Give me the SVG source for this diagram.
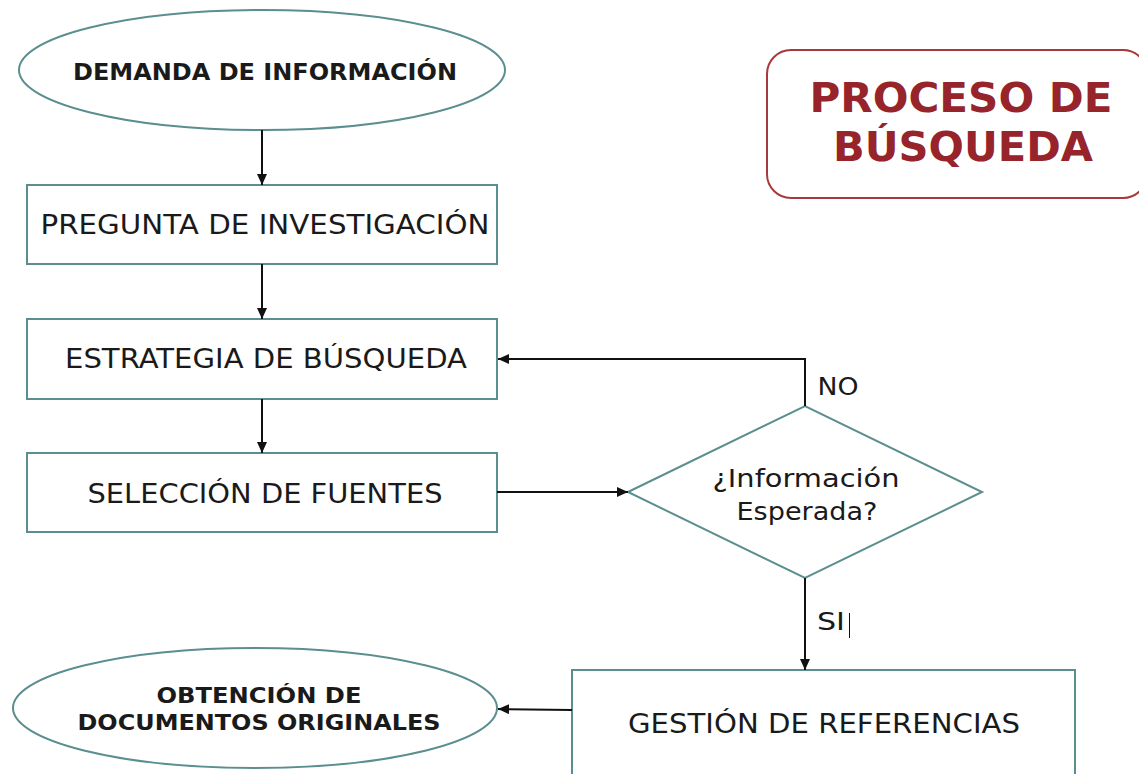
<svg xmlns="http://www.w3.org/2000/svg" width="1139" height="774" viewBox="0 0 1139 774">
<style>
.node{fill:#ffffff;stroke:#5b8e8e;stroke-width:2}
.t{font-family:"DejaVu Sans","Liberation Sans",sans-serif;fill:#1a1a1a;text-anchor:middle}
.b{font-weight:bold}
.edge{fill:none;stroke:#111111;stroke-width:2}
.title{font-family:"DejaVu Sans","Liberation Sans",sans-serif;font-weight:bold;fill:#96242a;text-anchor:middle}
</style>
<defs>
<marker id="arr" markerUnits="userSpaceOnUse" markerWidth="12" markerHeight="10" refX="11" refY="5" orient="auto">
<path d="M0,0 L11,5 L0,10 Z" fill="#111111"/>
</marker>
</defs>
<rect width="1139" height="774" fill="#ffffff"/>
<g id="title">
<rect x="767" y="50" width="380" height="148" rx="24" ry="24" fill="#ffffff" stroke="#a8383c" stroke-width="2"/>
<text class="title" x="961" y="112" font-size="41" textLength="303" lengthAdjust="spacingAndGlyphs">PROCESO DE</text>
<text class="title" x="963" y="161" font-size="41" textLength="260" lengthAdjust="spacingAndGlyphs">BÚSQUEDA</text>
</g>
<g id="demanda">
<ellipse class="node" cx="262" cy="70" rx="243" ry="60"/>
<text class="t b" x="265" y="80" font-size="23" textLength="384" lengthAdjust="spacingAndGlyphs">DEMANDA DE INFORMACIÓN</text>
</g>
<g id="pregunta">
<rect class="node" x="27" y="185" width="470" height="79"/>
<text class="t" x="265" y="234" font-size="26" textLength="449" lengthAdjust="spacingAndGlyphs">PREGUNTA DE INVESTIGACIÓN</text>
</g>
<g id="estrategia">
<rect class="node" x="27" y="319" width="470" height="80"/>
<text class="t" x="266" y="368" font-size="26" textLength="402" lengthAdjust="spacingAndGlyphs">ESTRATEGIA DE BÚSQUEDA</text>
</g>
<g id="seleccion">
<rect class="node" x="27" y="453" width="470" height="79"/>
<text class="t" x="265" y="503" font-size="26" textLength="355" lengthAdjust="spacingAndGlyphs">SELECCIÓN DE FUENTES</text>
</g>
<g id="decision">
<polygon class="node" points="628,492 805,406 982,492 805,578"/>
<text class="t" x="806" y="487" font-size="25" textLength="187" lengthAdjust="spacingAndGlyphs">¿Información</text>
<text class="t" x="807" y="520" font-size="25" textLength="141" lengthAdjust="spacingAndGlyphs">Esperada?</text>
</g>
<g id="gestion">
<rect class="node" x="572" y="670" width="503" height="120"/>
<text class="t" x="824" y="733" font-size="26" textLength="392" lengthAdjust="spacingAndGlyphs">GESTIÓN DE REFERENCIAS</text>
</g>
<g id="obtencion">
<ellipse class="node" cx="255" cy="708" rx="242" ry="60"/>
<text class="t b" x="259" y="703" font-size="21" textLength="205" lengthAdjust="spacingAndGlyphs">OBTENCIÓN DE</text>
<text class="t b" x="259" y="730" font-size="21" textLength="363" lengthAdjust="spacingAndGlyphs">DOCUMENTOS ORIGINALES</text>
</g>
<g id="connectors">
<line class="edge" x1="262" y1="130" x2="262" y2="185" marker-end="url(#arr)"/>
<line class="edge" x1="262" y1="264" x2="262" y2="319" marker-end="url(#arr)"/>
<line class="edge" x1="262" y1="399" x2="262" y2="453" marker-end="url(#arr)"/>
<line class="edge" x1="497" y1="492" x2="628" y2="492" marker-end="url(#arr)"/>
<polyline class="edge" points="805,406 805,359 498,359" marker-end="url(#arr)"/>
<line class="edge" x1="805" y1="578" x2="805" y2="670" marker-end="url(#arr)"/>
<line class="edge" x1="572" y1="710" x2="498" y2="709" marker-end="url(#arr)"/>
<text class="t" x="838" y="395" font-size="24" textLength="41" lengthAdjust="spacingAndGlyphs">NO</text>
<text class="t" x="831" y="630" font-size="24" textLength="28" lengthAdjust="spacingAndGlyphs">SI</text>
<line x1="849.5" y1="613" x2="849.5" y2="638" stroke="#111111" stroke-width="1"/>
</g>
</svg>
